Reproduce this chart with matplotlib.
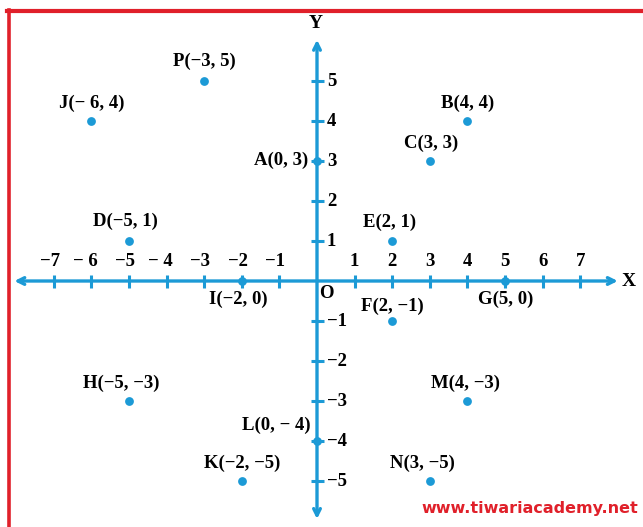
import matplotlib
matplotlib.use("Agg")
import matplotlib.pyplot as plt
from matplotlib.lines import Line2D

# ---- data ----
point_names = ["P", "J", "B", "A", "C", "D", "E", "I", "F", "G", "H", "M", "L", "K", "N"]
point_x = [-3, -6, 4, 0, 3, -5, 2, -2, 2, 5, -5, 4, 0, -2, 3]
point_y = [5, 4, 4, 3, 3, 1, 1, 0, -1, 0, -3, -3, -4, -5, -5]
point_labels = ["P(\u22123, 5)", "J(\u2212 6, 4)", "B(4, 4)", "A(0, 3)", "C(3, 3)",
                "D(\u22125, 1)", "E(2, 1)", "I(\u22122, 0)", "F(2, \u22121)", "G(5, 0)",
                "H(\u22125, \u22123)", "M(4, \u22123)", "L(0, \u2212 4)", "K(\u22122, \u22125)",
                "N(3, \u22125)"]
x_ticks = [-7, -6, -5, -4, -3, -2, -1, 1, 2, 3, 4, 5, 6, 7]
x_tick_labels = ["\u22127", "\u2212 6", "\u22125", "\u2212 4", "\u22123", "\u22122", "\u22121",
                 "1", "2", "3", "4", "5", "6", "7"]
y_ticks = [5, 4, 3, 2, 1, -1, -2, -3, -4, -5]
y_tick_labels = ["5", "4", "3", "2", "1", "\u22121", "\u22122", "\u22123", "\u22124", "\u22125"]

# label offsets in pixels (dx, dy, ha) -- layout only
label_offsets = {
    "P": (0, 20, "center"), "J": (0, 18, "center"), "B": (0, 18, "center"),
    "A": (-9, 1, "right"), "C": (1, 18, "center"), "D": (-4, 20, "center"),
    "E": (-3, 19, "center"), "I": (-3, -18, "center"), "F": (0, 15, "center"),
    "G": (1, -18, "center"), "H": (-8, 18, "center"), "M": (-2, 18, "center"),
    "L": (-6, 16, "right"), "K": (0, 18, "center"), "N": (-7, 18, "center"),
}

W, H = 643, 527
DPI = 100
OX, OY = 317, 281        # origin pixel
UX, UY = 37.6, 40.0      # pixels per unit
blue = "#1c9ad6"
red = "#e0202a"
serif = ["Liberation Serif", "DejaVu Serif"]

fig = plt.figure(figsize=(W / DPI, H / DPI), dpi=DPI)
ax = fig.add_axes([0, 0, 1, 1])
ax.set_xlim(-OX / UX, (W - OX) / UX)
ax.set_ylim(-(H - OY) / UY, OY / UY)
ax.axis("off")

def px_x(d):
    return d / UX

def px_y(d):
    return d / UY

# axes with arrows
ax.annotate("", xy=(8.0, 0), xytext=(-8.05, 0),
            arrowprops=dict(arrowstyle="<->", color=blue, lw=2.4, mutation_scale=12,
                            shrinkA=0, shrinkB=0))
ax.annotate("", xy=(0, 6.03), xytext=(0, -5.95),
            arrowprops=dict(arrowstyle="<->", color=blue, lw=2.4, mutation_scale=12,
                            shrinkA=0, shrinkB=0))

# ticks
for xt, lab in zip(x_ticks, x_tick_labels):
    ax.plot([xt, xt], [-px_y(6.5), px_y(6.5)], color=blue, lw=2.2, solid_capstyle="butt")
    if xt < 0:
        ax.text(xt + px_x(6), px_y(19), lab, ha="right", va="center",
                fontsize=13.5, fontweight="bold", family=serif)
    else:
        ax.text(xt, px_y(19), lab, ha="center", va="center",
                fontsize=13.5, fontweight="bold", family=serif)
for yt, lab in zip(y_ticks, y_tick_labels):
    ax.plot([-px_x(6.5), px_x(6.5)], [yt, yt], color=blue, lw=2.2, solid_capstyle="butt")
    ax.text(px_x(10), yt, lab, ha="left", va="center",
            fontsize=13.5, fontweight="bold", family=serif)

# axis names
ax.text(px_x(311 - OX + 5), px_y(OY - 24), "Y", ha="center", va="center",
        fontsize=14, fontweight="bold", family=serif)
ax.text(px_x(629 - OX), 0, "X", ha="center", va="center",
        fontsize=14, fontweight="bold", family=serif)
ax.text(px_x(9), -px_y(12), "O", ha="center", va="center",
        fontsize=13.5, fontweight="bold", family=serif)

# points
ax.scatter(point_x, point_y, s=40, color=blue, zorder=5, linewidths=0)
for n, x, y, lab in zip(point_names, point_x, point_y, point_labels):
    dx, dy, ha = label_offsets[n]
    ax.text(x + px_x(dx), y + px_y(dy), lab, ha=ha, va="center",
            fontsize=13.5, fontweight="bold", family=serif)

# watermark
fig.text(638 / W, 1 - 509 / H, "www.tiwariacademy.net", ha="right", va="center",
         fontsize=11.5, fontweight="bold", color=red, family="DejaVu Sans")

# red frame (top and left)
fig.add_artist(Line2D([8.5 / W, 8.5 / W], [0, 1 - 9.5 / H], color=red, lw=2.6,
                      transform=fig.transFigure))
fig.add_artist(Line2D([7 / W, 1], [1 - 11 / H, 1 - 11 / H], color=red, lw=3.0,
                      transform=fig.transFigure))

fig.savefig("out.png", dpi=DPI, facecolor="white")
